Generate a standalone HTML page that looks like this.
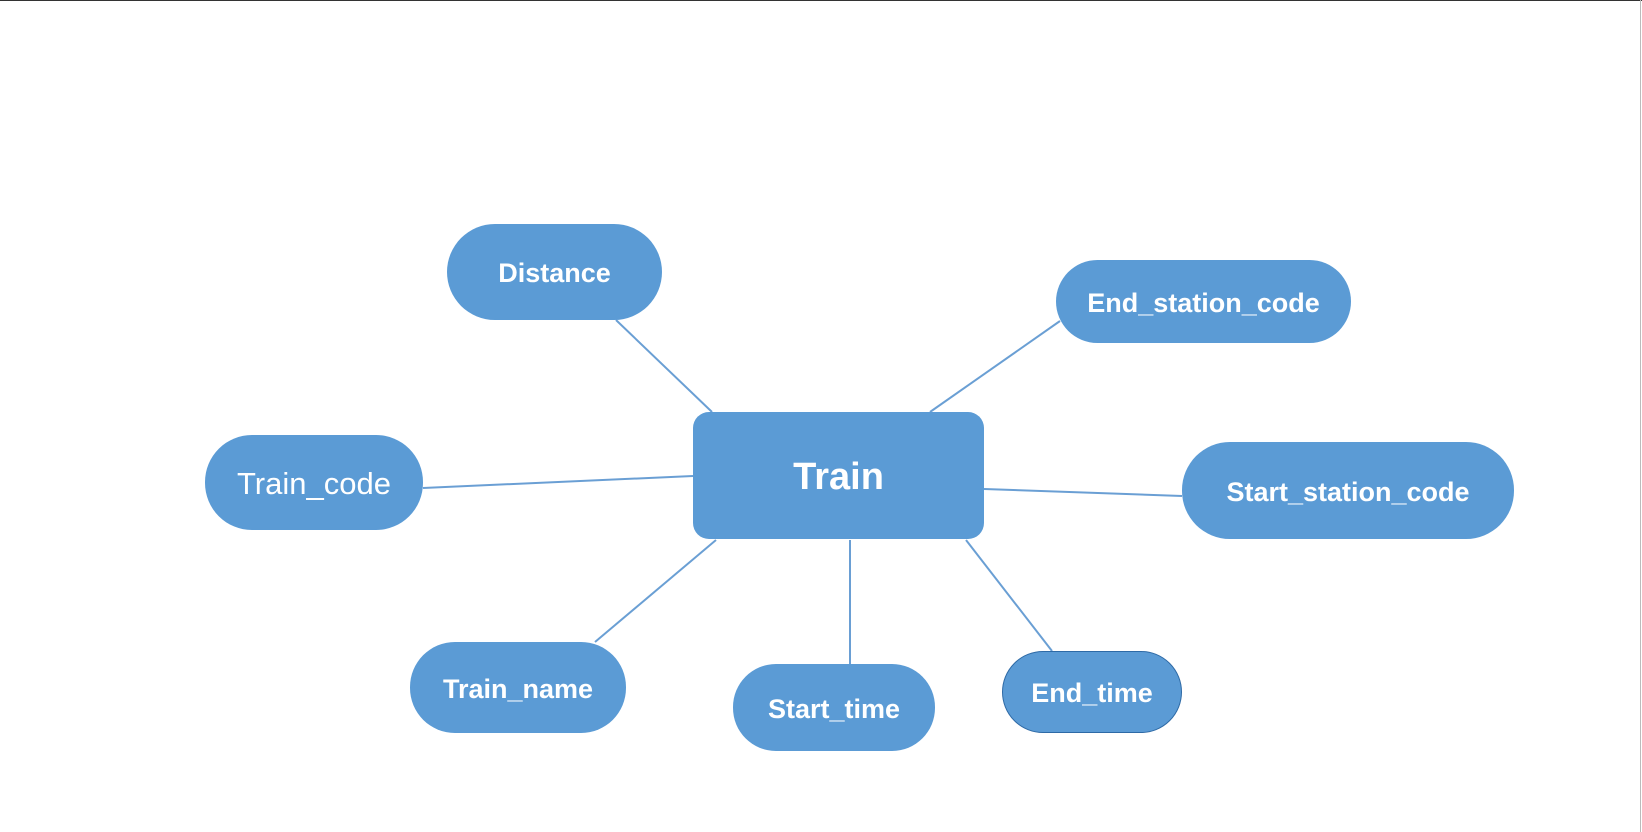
<!DOCTYPE html>
<html><head><meta charset="utf-8"><style>
html,body{margin:0;padding:0;background:#fff;}
body{width:1642px;height:832px;position:relative;overflow:hidden;font-family:"Liberation Sans",sans-serif;}
.n{position:absolute;background:#5b9bd5;color:#fff;display:flex;align-items:center;justify-content:center;font-weight:bold;font-size:27px;box-sizing:border-box;padding-top:3px;}
</style></head><body>
<div style="position:absolute;left:0;top:0;width:1642px;height:1px;background:#333"></div>
<div style="position:absolute;left:1640px;top:0;width:1px;height:832px;background:#bbb"></div>
<svg width="1642" height="832" style="position:absolute;left:0;top:0">
<g stroke="#6a9fd4" stroke-width="2">
<line x1="616" y1="320" x2="712" y2="412"/>
<line x1="1060" y1="321" x2="930" y2="412"/>
<line x1="423" y1="488" x2="693" y2="476"/>
<line x1="984" y1="489" x2="1182" y2="496"/>
<line x1="595" y1="642" x2="716" y2="540"/>
<line x1="850" y1="540" x2="850" y2="664"/>
<line x1="966" y1="540" x2="1052" y2="651"/>
</g></svg>
<div class="n" style="left:693px;top:412px;width:291px;height:127px;border-radius:16px;font-size:38px">Train</div>
<div class="n" style="left:447px;top:224px;width:215px;height:96px;border-radius:48px">Distance</div>
<div class="n" style="left:1056px;top:260px;width:295px;height:83px;border-radius:42px">End_station_code</div>
<div class="n" style="left:205px;top:435px;width:218px;height:95px;border-radius:47px;font-weight:normal;font-size:31px">Train_code</div>
<div class="n" style="left:1182px;top:442px;width:332px;height:97px;border-radius:48px">Start_station_code</div>
<div class="n" style="left:410px;top:642px;width:216px;height:91px;border-radius:45px">Train_name</div>
<div class="n" style="left:733px;top:664px;width:202px;height:87px;border-radius:43px">Start_time</div>
<div class="n" style="left:1002px;top:651px;width:180px;height:82px;border-radius:41px;border:1.5px solid #2e6aa6">End_time</div>
</body></html>
